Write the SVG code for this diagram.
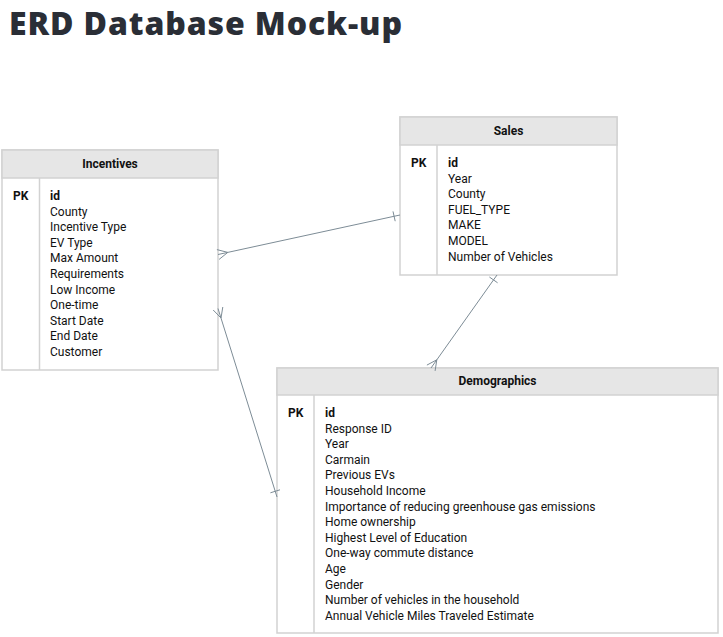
<svg xmlns="http://www.w3.org/2000/svg" width="723" height="637" viewBox="0 0 723 637">
<style>
.box{fill:#ffffff;stroke:#d2d2d2;stroke-width:1.5}
.hdr{fill:#e6e6e6;stroke:#d2d2d2;stroke-width:1.5}
.div{stroke:#d2d2d2;stroke-width:1.5}
.t{font-family:Roboto,"Liberation Sans",sans-serif;font-size:12px;fill:#111}
.b{font-weight:bold}
.h{font-family:Roboto,"Liberation Sans",sans-serif;font-size:12px;font-weight:bold;fill:#111;text-anchor:middle}
.ln{stroke:#7d8c96;stroke-width:1;fill:none}
.title{font-family:"Open Sans","Noto Sans",sans-serif;font-size:32px;font-weight:800;fill:#2a2e36}
</style>
<rect width="723" height="637" fill="#ffffff"/>
<text class="title" x="9" y="35" textLength="393" lengthAdjust="spacing">ERD Database Mock-up</text>

<g id="incentives">
<rect class="box" x="2" y="150" width="216" height="220"/>
<rect class="hdr" x="2" y="150" width="216" height="28"/>
<line class="div" x1="39.5" y1="178" x2="39.5" y2="370"/>
<text class="h" x="110" y="167.5">Incentives</text>
<text class="t b" x="13" y="200">PK</text>
<text class="t b" x="50" y="200">id</text>
<text class="t" x="50" y="215.6">County</text>
<text class="t" x="50" y="231.2">Incentive Type</text>
<text class="t" x="50" y="246.8">EV Type</text>
<text class="t" x="50" y="262.4">Max Amount</text>
<text class="t" x="50" y="278">Requirements</text>
<text class="t" x="50" y="293.6">Low Income</text>
<text class="t" x="50" y="309.2">One-time</text>
<text class="t" x="50" y="324.8">Start Date</text>
<text class="t" x="50" y="340.4">End Date</text>
<text class="t" x="50" y="356">Customer</text>
</g>

<g id="sales">
<rect class="box" x="400" y="117" width="217" height="158"/>
<rect class="hdr" x="400" y="117" width="217" height="28"/>
<line class="div" x1="437" y1="145" x2="437" y2="275"/>
<text class="h" x="508.5" y="134.5">Sales</text>
<text class="t b" x="411" y="167">PK</text>
<text class="t b" x="448" y="167">id</text>
<text class="t" x="448" y="182.6">Year</text>
<text class="t" x="448" y="198.2">County</text>
<text class="t" x="448" y="213.8">FUEL_TYPE</text>
<text class="t" x="448" y="229.4">MAKE</text>
<text class="t" x="448" y="245">MODEL</text>
<text class="t" x="448" y="260.6">Number of Vehicles</text>
</g>

<g id="demographics">
<rect class="box" x="277" y="368" width="441" height="265"/>
<rect class="hdr" x="277" y="368" width="441" height="27"/>
<line class="div" x1="314" y1="395" x2="314" y2="633"/>
<text class="h" x="497.5" y="385">Demographics</text>
<text class="t b" x="288" y="417">PK</text>
<text class="t b" x="325" y="417">id</text>
<text class="t" x="325" y="432.6">Response ID</text>
<text class="t" x="325" y="448.2">Year</text>
<text class="t" x="325" y="463.8">Carmain</text>
<text class="t" x="325" y="479.4">Previous EVs</text>
<text class="t" x="325" y="495">Household Income</text>
<text class="t" x="325" y="510.6">Importance of reducing greenhouse gas emissions</text>
<text class="t" x="325" y="526.2">Home ownership</text>
<text class="t" x="325" y="541.8">Highest Level of Education</text>
<text class="t" x="325" y="557.4">One-way commute distance</text>
<text class="t" x="325" y="573">Age</text>
<text class="t" x="325" y="588.6">Gender</text>
<text class="t" x="325" y="604.2">Number of vehicles in the household</text>
<text class="t" x="325" y="619.8">Annual Vehicle Miles Traveled Estimate</text>
</g>

<g id="connectors">
<!-- Incentives (many) to Sales (one) -->
<line class="ln" x1="218" y1="254.5" x2="400" y2="215"/>
<path class="ln" d="M219.1,259.4 L227.8,252.4 L216.9,249.6"/>
<line class="ln" x1="395.2" y1="221.2" x2="393" y2="211.4"/>
<!-- Incentives (many) to Demographics (one) -->
<line class="ln" x1="218" y1="308.5" x2="277" y2="497"/>
<path class="ln" d="M222.8,307 L221,318 L213.2,310"/>
<line class="ln" x1="280" y1="489.8" x2="270.4" y2="492.8"/>
<!-- Sales (one) to Demographics (many) -->
<line class="ln" x1="497" y1="275" x2="431" y2="368"/>
<line class="ln" x1="497.6" y1="282.8" x2="489.4" y2="277"/>
<path class="ln" d="M435.1,370.9 L436.8,359.8 L426.9,365.1"/>
</g>
</svg>
